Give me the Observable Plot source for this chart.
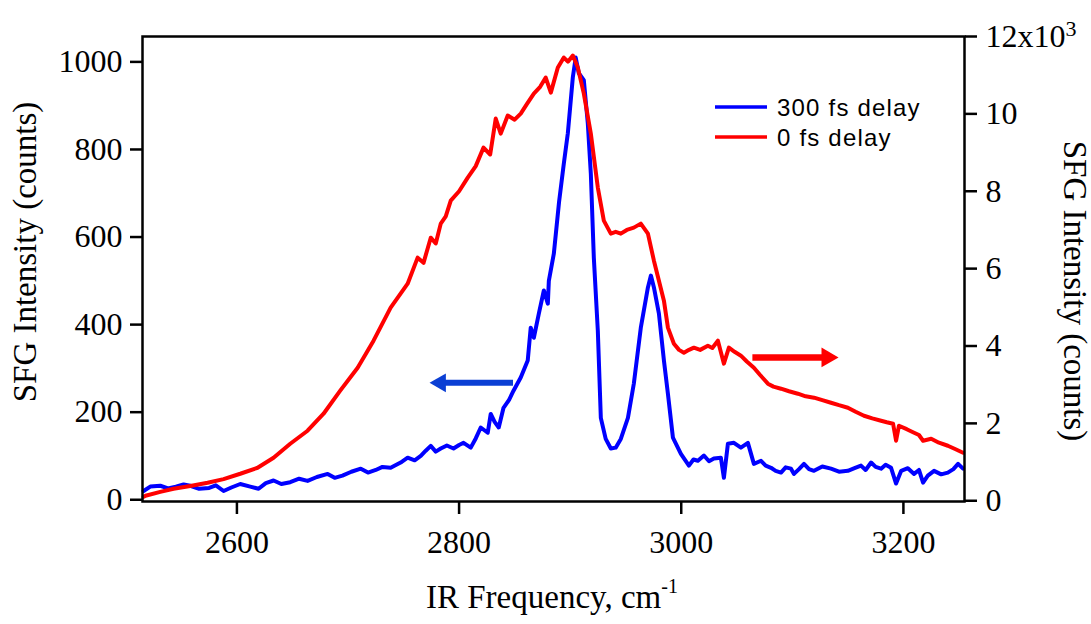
<!DOCTYPE html>
<html>
<head>
<meta charset="utf-8">
<script src="https://cdn.jsdelivr.net/npm/d3@7"></script>
<script src="https://cdn.jsdelivr.net/npm/@observablehq/plot@0.6"></script>
<style>
  html, body { margin: 0; padding: 0; background: #fff; }
  #chart { position: relative; width: 1091px; height: 624px; }
</style>
</head>
<body>
<div id="chart"></div>
<script>
// ---- Data ----
// 300 fs delay (left axis, counts)
const blueFreq = [2516, 2522, 2531, 2538, 2545, 2552, 2558, 2566, 2575, 2581, 2588, 2595, 2603, 2612, 2619.5, 2626, 2633, 2640, 2648, 2656, 2663.6, 2672, 2681.7, 2688, 2695, 2703, 2711.5, 2718, 2725, 2731, 2738.4, 2747.4, 2753.7, 2760, 2765.5, 2770, 2774.5, 2779, 2783.5, 2789, 2795, 2800, 2804, 2810.5, 2815, 2819.5, 2825.8, 2828.5, 2832, 2835.7, 2840, 2845, 2849, 2855.5, 2861.8, 2864.5, 2867.3, 2871.8, 2876.3, 2879.9, 2880.8, 2885.3, 2890, 2894.3, 2897.9, 2902.4, 2905, 2907.8, 2912.3, 2915.9, 2918.6, 2921.3, 2924.9, 2927.6, 2932, 2936.6, 2941, 2945.6, 2952, 2957.3, 2963.6, 2970, 2972.7, 2975.4, 2979.9, 2984.4, 2988, 2992.5, 2999.7, 3006.9, 3011, 3015, 3020.4, 3025, 3029.4, 3035.7, 3038.4, 3042, 3047.4, 3053.7, 3060, 3065.4, 3071.8, 3076, 3080.8, 3085, 3089.8, 3094, 3098.8, 3101.5, 3106, 3110.5, 3115, 3119.5, 3127, 3134.8, 3142, 3150, 3156, 3161.8, 3166, 3170.9, 3175, 3179.9, 3184, 3188.9, 3193.4, 3198, 3204, 3209.6, 3214, 3217.7, 3222, 3227.6, 3234, 3240, 3245, 3249.2, 3253.7];
const blueCounts = [20, 30, 32, 26, 30, 35, 32, 25, 27, 33, 20, 28, 36, 30, 25, 38, 44, 36, 40, 48, 43, 52, 59, 50, 55, 64, 71, 62, 68, 75, 73, 85, 96, 90, 100, 112, 123, 110, 117, 124, 117, 125, 130, 119, 140, 165, 153, 196, 178, 165, 210, 228, 249, 279, 318, 393, 370, 425, 478, 448, 500, 562, 680, 768, 837, 965, 1010, 974, 958, 859, 745, 553, 386, 187, 139, 117, 119, 139, 187, 265, 393, 485, 512, 485, 425, 318, 242, 142, 105, 78, 92, 89, 101, 88, 94, 96, 50, 128, 130, 119, 130, 82, 89, 78, 73, 66, 62, 74, 71, 59, 70, 82, 70, 66, 76, 71, 64, 66, 72, 78, 68, 85, 75, 71, 80, 73, 37, 66, 72, 59, 68, 39, 55, 66, 58, 62, 70, 82, 71];
// 0 fs delay (right axis, counts)
const redFreq = [2516, 2517.7, 2531, 2543, 2558, 2573.6, 2588, 2603, 2618.6, 2633, 2648, 2663.6, 2678, 2693, 2708.7, 2723, 2738.4, 2753.7, 2762.7, 2768, 2774.5, 2779, 2783.5, 2788, 2792.5, 2800, 2807.8, 2815, 2822, 2828, 2833, 2837.5, 2843.8, 2850, 2855.5, 2861, 2867.3, 2873, 2878, 2882.6, 2888.9, 2894.3, 2898, 2902.4, 2906.9, 2912.3, 2918.6, 2924.9, 2930.3, 2936.6, 2941, 2945.6, 2951, 2957.3, 2963.6, 2970, 2975.4, 2984.4, 2988, 2993.4, 2998, 3002.4, 3007, 3011.4, 3017, 3024, 3028, 3033, 3038.4, 3042.9, 3048, 3053.7, 3059, 3065.4, 3071, 3078, 3083, 3089.8, 3097, 3105, 3112, 3119.5, 3127, 3134.8, 3142, 3150, 3157, 3164.5, 3172, 3179.9, 3185, 3190.7, 3193.4, 3196, 3203, 3209.6, 3214, 3217.7, 3225, 3232, 3240, 3247, 3253.7];
const redCounts = [100, 129, 230, 310, 380, 465, 560, 698, 853, 1112, 1474, 1810, 2250, 2845, 3440, 4138, 4990, 5610, 6284, 6150, 6800, 6650, 7163, 7350, 7758, 8000, 8353, 8650, 9128, 8950, 9878, 9490, 9956, 9850, 10007, 10250, 10524, 10700, 10938, 10550, 11197, 11456, 11350, 11507, 11197, 10524, 9490, 8094, 7241, 6904, 6950, 6904, 7000, 7060, 7163, 6904, 6206, 5172, 4474, 4060, 3900, 3827, 3900, 3957, 3900, 4008, 3950, 4138, 3543, 3957, 3850, 3750, 3600, 3440, 3250, 3026, 2950, 2896, 2830, 2767, 2700, 2664, 2600, 2534, 2470, 2405, 2300, 2198, 2130, 2069, 2030, 1991, 1552, 1940, 1850, 1758, 1700, 1552, 1603, 1500, 1422, 1330, 1241];

const xTicks = [2600, 2800, 3000, 3200];
const leftTicks = [0, 200, 400, 600, 800, 1000];
const rightTicks = [0, 2000, 4000, 6000, 8000, 10000, 12000];
const rightTickLabels = ["0", "2", "4", "6", "8", "10", "12x10"];
const seriesNames = ["300 fs delay", "0 fs delay"];

// ---- scales ----
const xDomain = [2515, 3255];
const yDomain = [-4, 1058];
// right axis: 0 -> -2.3 (left units), 12000 -> 1058 (left units)
const rightZero = -2.3, rightTopLeft = 1058, rightMax = 12000;
const toLeft = r => rightZero + r * (rightTopLeft - rightZero) / rightMax;

const blue = blueFreq.map((x, i) => ({x, y: blueCounts[i]}));
const red = redFreq.map((x, i) => ({x, r: redCounts[i]}));
const rightTickPos = rightTicks.map(toLeft);
const rightLabelMap = new Map(rightTickPos.map((v, i) => [v, rightTickLabels[i]]));

const BLUE = "#0000ff", RED = "#ff0000", ARROWBLUE = "#0b3fd4";

// annotation arrows (data units)
const blueArrow = {x1: 2849, x2: 2784, tipX: 2773.6, y: 267};
const redArrow  = {x1: 3064.5, x2: 3131, tipX: 3141, y: 325};

const plot = Plot.plot({
  width: 1091,
  height: 624,
  marginLeft: 142,
  marginRight: 127,
  marginTop: 36,
  marginBottom: 123,
  style: {fontFamily: "'Liberation Serif', 'Times New Roman', serif", fontSize: "32px", color: "black", background: "white", overflow: "visible"},
  x: {domain: xDomain},
  y: {domain: yDomain},
  marks: [
    Plot.line(blue, {x: "x", y: "y", stroke: BLUE, strokeWidth: 4, strokeLinejoin: "round"}),
    Plot.line(red, {x: "x", y: d => toLeft(d.r), stroke: RED, strokeWidth: 4, strokeLinejoin: "round"}),
    // arrows
    Plot.ruleY([blueArrow.y], {x1: blueArrow.x1, x2: blueArrow.x2, stroke: ARROWBLUE, strokeWidth: 6}),
    Plot.dot([blueArrow], {x: d => d.tipX + 9.6, y: "y", symbol: "triangle", r: 7, fill: ARROWBLUE, stroke: null, rotate: -90}),
    Plot.ruleY([redArrow.y], {x1: redArrow.x1, x2: redArrow.x2, stroke: RED, strokeWidth: 6.5}),
    Plot.dot([redArrow], {x: d => d.tipX - 9.6, y: "y", symbol: "triangle", r: 7.3, fill: RED, stroke: null, rotate: 90}),
    Plot.frame({stroke: "black", strokeWidth: 2.5}),
    Plot.axisX(xTicks, {anchor: "bottom", tickSize: 13, tickPadding: 16, fontSize: 32, strokeWidth: 2.5, label: null, tickFormat: d => String(d)}),
    Plot.axisY(leftTicks, {anchor: "left", tickSize: 12, tickPadding: 8, fontSize: 32, strokeWidth: 2.5, label: null, tickFormat: d => String(d)}),
    Plot.axisY(rightTickPos, {anchor: "right", tickSize: 12, tickPadding: 9, fontSize: 32, strokeWidth: 2.5, label: null, tickFormat: d => rightLabelMap.get(d)})
  ]
});

document.getElementById("chart").appendChild(plot);

// superscript on top right tick label
const svg = d3.select(plot);
svg.selectAll("text").each(function() {
  if (this.textContent === "12x10") {
    d3.select(this).append("tspan").attr("dy", "-11").attr("font-size", 22).text("3");
  }
});

// axis titles
const serif = "'Liberation Serif', 'Times New Roman', serif";
svg.append("text")
  .attr("transform", "translate(36,252) rotate(-90)")
  .attr("text-anchor", "middle").attr("font-family", serif).attr("font-size", 33).attr("fill", "black")
  .text("SFG Intensity (counts)");
svg.append("text")
  .attr("transform", "translate(1064,291) rotate(90)")
  .attr("text-anchor", "middle").attr("font-family", serif).attr("font-size", 33).attr("fill", "black")
  .text("SFG Intensity (counts)");
const xt = svg.append("text")
  .attr("x", 426).attr("y", 608).attr("text-anchor", "start")
  .attr("font-family", serif).attr("font-size", 33).attr("fill", "black");
xt.append("tspan").text("IR Frequency, cm");
xt.append("tspan").attr("dy", -15).attr("font-size", 20).text("-1");

// legend
const sans = "'Liberation Sans', Arial, sans-serif";
const legendColors = [BLUE, RED];
const lg = svg.append("g");
seriesNames.forEach((name, i) => {
  const yy = 107 + i * 30;
  lg.append("line").attr("x1", 715).attr("x2", 767).attr("y1", yy).attr("y2", yy)
    .attr("stroke", legendColors[i]).attr("stroke-width", 3.5);
  lg.append("text").attr("x", 777).attr("y", yy + 8.5).attr("text-anchor", "start")
    .attr("font-family", sans).attr("font-size", 24).attr("letter-spacing", "1.2px").attr("fill", "black")
    .text(name);
});
</script>
</body>
</html>
